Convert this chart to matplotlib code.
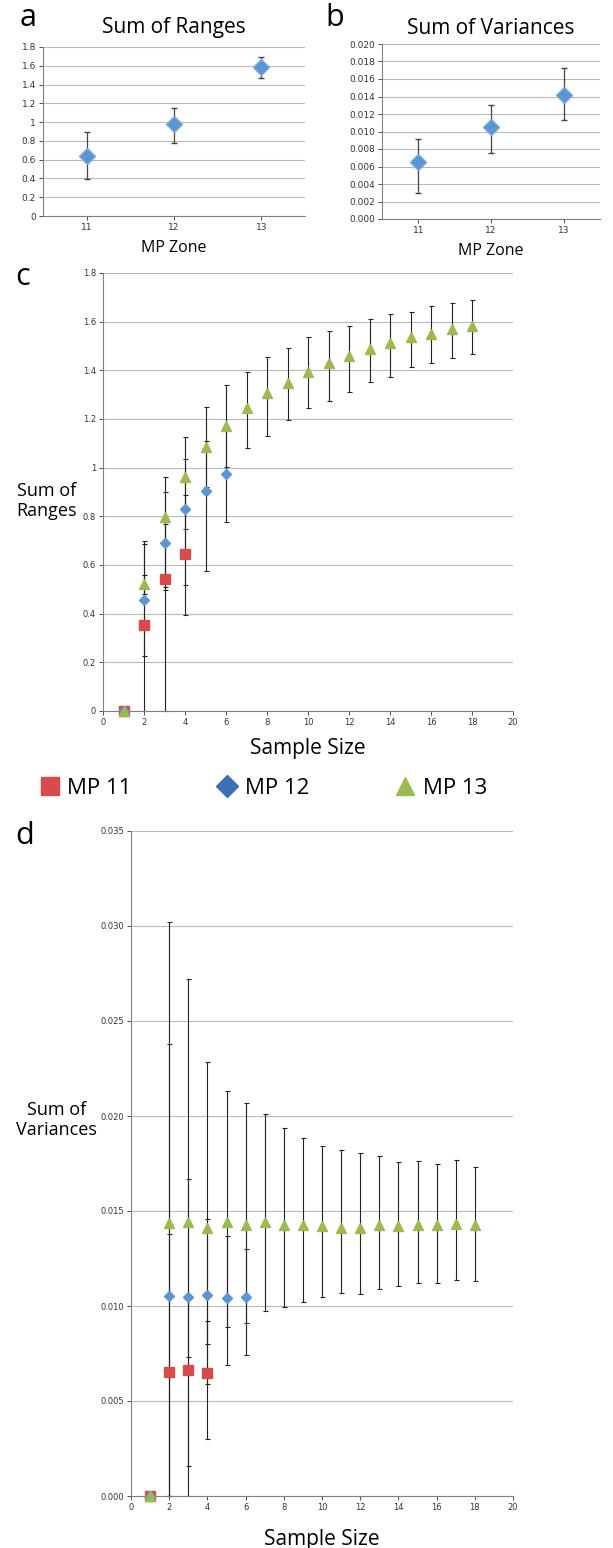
import matplotlib.pyplot as plt
from matplotlib.lines import Line2D
from matplotlib.ticker import FuncFormatter

plt.rcParams['font.family'] = ['Open Sans', 'DejaVu Sans']

# panel a, b: по зонам
zones = [11, 12, 13]
a_mean = [0.64, 0.975, 1.585]
a_lo = [0.39, 0.775, 1.465]
a_hi = [0.89, 1.155, 1.695]
b_mean = [0.0065, 0.0105, 0.0142]
b_lo = [0.0030, 0.0075, 0.0113]
b_hi = [0.0092, 0.0130, 0.0173]

# panel c: sum of ranges vs sample size
n11 = [1, 2, 3, 4]
n12 = [1, 2, 3, 4, 5, 6]
n13 = list(range(1, 19))
c11 = [0, 0.353, 0.543, 0.645]
c11_lo = [0, 0.0, 0.0, 0.395]
c11_hi = [0, 0.70, 0.767, 0.888]
c12 = [0, 0.456, 0.689, 0.829, 0.905, 0.975]
c12_lo = [0, 0.225, 0.497, 0.518, 0.577, 0.778]
c12_hi = [0, 0.685, 0.90, 1.036, 1.111, 1.155]
c13 = [0, 0.521, 0.799, 0.96, 1.086, 1.171, 1.244, 1.306, 1.349, 1.395,
       1.429, 1.459, 1.488, 1.511, 1.536, 1.551, 1.571, 1.584]
c13_lo = [0, 0.48, 0.51, 0.747, 0.921, 1.003, 1.082, 1.130, 1.195, 1.244,
          1.276, 1.309, 1.351, 1.373, 1.414, 1.429, 1.452, 1.466]
c13_hi = [0, 0.56, 0.96, 1.127, 1.251, 1.339, 1.395, 1.456, 1.493, 1.539,
          1.563, 1.584, 1.613, 1.632, 1.641, 1.665, 1.676, 1.689]

# panel d: sum of variances vs sample size
d11 = [0, 0.00653, 0.00663, 0.00647]
d11_lo = [0, 0, 0, 0.0030]
d11_hi = [0, 0.0138, 0.0104, 0.0092]
d12 = [0, 0.01054, 0.0105, 0.0106, 0.0104, 0.01049]
d12_lo = [0, 0, 0.0073, 0.0080, 0.0069, 0.0074]
d12_hi = [0, 0.0238, 0.0167, 0.0146, 0.0137, 0.0130]
d13 = [0, 0.01439, 0.01441, 0.01411, 0.0144, 0.01428, 0.0144, 0.01428, 0.01424,
       0.0142, 0.01413, 0.01413, 0.01424, 0.0142, 0.01428, 0.01424, 0.01432, 0.01424]
d13_lo = [0, 0, 0.0016, 0.0059, 0.0089, 0.0091, 0.00975, 0.00993, 0.01021,
          0.01049, 0.0107, 0.01065, 0.01088, 0.01105, 0.0112, 0.01123, 0.01135, 0.01133]
d13_hi = [0, 0.0302, 0.0272, 0.02286, 0.02132, 0.02067, 0.02011, 0.01935, 0.01882,
          0.01844, 0.01819, 0.01803, 0.01789, 0.0176, 0.01763, 0.01745, 0.01767, 0.01733]

RED = '#d94b4b'
BLUE = '#5b95d6'
BLUE_DARK = '#3d6fb5'
GREEN = '#9bbb4f'
GRID = '#b8b8b8'

W, H = 613, 1548
fig = plt.figure(figsize=(W / 100, H / 100), dpi=100)


def box(l, r, t, b):
    # пиксели -> доли фигуры
    return [l / W, 1 - b / H, (r - l) / W, (b - t) / H]


def style(ax, tick_size=6.5):
    ax.grid(axis='y', color=GRID, lw=0.8)
    ax.set_axisbelow(True)
    for s in ['top', 'right']:
        ax.spines[s].set_visible(False)
    for s in ['left', 'bottom']:
        ax.spines[s].set_color('#808080')
        ax.spines[s].set_linewidth(0.8)
    ax.tick_params(labelsize=tick_size, colors='#333333', length=3, width=0.6,
                   direction='out', pad=2)
    for lab in ax.get_xticklabels() + ax.get_yticklabels():
        lab.set_family('DejaVu Sans')


def errs(mean, lo, hi):
    return [[m - l for m, l in zip(mean, lo)], [h - m for m, h in zip(mean, hi)]]


def gfmt(v, pos):
    return ('%g' % round(v, 2))


# --- a ---
ax = fig.add_axes(box(43, 305, 47, 216))
ax.errorbar(zones, a_mean, yerr=errs(a_mean, a_lo, a_hi), fmt='D', color=BLUE,
            ms=8, mec='#7aa8dc', ecolor='#444444', elinewidth=0.9, capsize=2.5, zorder=3)
ax.set_xlim(10.5, 13.5)
ax.set_ylim(0, 1.8)
ax.set_xticks(zones)
ax.set_yticks([i * 0.2 for i in range(10)])
ax.yaxis.set_major_formatter(FuncFormatter(gfmt))
style(ax)
ax.set_title('Sum of Ranges', fontsize=15, pad=10)
ax.set_xlabel('MP Zone', fontsize=11.5, labelpad=6)
fig.text(20 / W, 1 - 18 / H, 'a', fontsize=22, va='center', ha='left')

# --- b ---
ax = fig.add_axes(box(382, 600, 44, 219))
ax.errorbar(zones, b_mean, yerr=errs(b_mean, b_lo, b_hi), fmt='D', color=BLUE,
            ms=8, mec='#7aa8dc', ecolor='#444444', elinewidth=0.9, capsize=2.5, zorder=3)
ax.set_xlim(10.5, 13.5)
ax.set_ylim(0, 0.020)
ax.set_xticks(zones)
ax.set_yticks([i * 0.002 for i in range(11)])
ax.yaxis.set_major_formatter(FuncFormatter(lambda v, p: '%.3f' % v))
style(ax)
ax.set_title('Sum of Variances', fontsize=15, pad=7)
ax.set_xlabel('MP Zone', fontsize=11.5, labelpad=6)
fig.text(325 / W, 1 - 18 / H, 'b', fontsize=22, va='center', ha='left')


def series_plot(ax, x, m, lo, hi, marker, color, ms):
    ax.errorbar(x, m, yerr=errs(m, lo, hi), fmt='none', ecolor='#222222',
                elinewidth=0.8, capsize=1.8, capthick=0.8, zorder=2, clip_on=False)
    ax.plot(x, m, ls='none', marker=marker, color=color, ms=ms, mec=color,
            zorder=3, clip_on=False)


# --- c ---
ax = fig.add_axes(box(103, 513, 273, 711))
series_plot(ax, n11, c11, c11_lo, c11_hi, 's', RED, 6.5)
series_plot(ax, n12, c12, c12_lo, c12_hi, 'D', BLUE, 5.5)
series_plot(ax, n13, c13, c13_lo, c13_hi, '^', GREEN, 6.5)
ax.set_xlim(0, 20)
ax.set_ylim(0, 1.8)
ax.set_xticks(range(0, 21, 2))
ax.set_yticks([i * 0.2 for i in range(10)])
ax.yaxis.set_major_formatter(FuncFormatter(gfmt))
style(ax, 6)
ax.set_xlabel('Sample Size', fontsize=15, labelpad=8)
ax.set_ylabel('Sum of\nRanges', fontsize=13, rotation=0, ha='center', va='center',
              linespacing=1.15)
ax.yaxis.set_label_coords(-0.137, 0.48)
fig.text(15 / W, 1 - 277 / H, 'c', fontsize=22, va='center', ha='left')

# --- legend ---
handles = [Line2D([], [], ls='none', marker='s', ms=13, color=RED, mec=RED),
           Line2D([], [], ls='none', marker='D', ms=11, color=BLUE_DARK, mec=BLUE_DARK),
           Line2D([], [], ls='none', marker='^', ms=13, color=GREEN, mec=GREEN)]
fig.legend(handles, ['MP 11', 'MP 12', 'MP 13'], loc='center', ncol=3,
           bbox_to_anchor=(264 / W, 1 - 788 / H), frameon=False, fontsize=16,
           handlelength=0.8, handletextpad=0.4, columnspacing=3.9)

# --- d ---
ax = fig.add_axes(box(131, 513, 831, 1496))
series_plot(ax, n11, d11, d11_lo, d11_hi, 's', RED, 7)
series_plot(ax, n12, d12, d12_lo, d12_hi, 'D', BLUE, 5.5)
series_plot(ax, n13, d13, d13_lo, d13_hi, '^', GREEN, 7)
ax.set_xlim(0, 20)
ax.set_ylim(0, 0.035)
ax.set_xticks(range(0, 21, 2))
ax.set_yticks([i * 0.005 for i in range(8)])
ax.yaxis.set_major_formatter(FuncFormatter(lambda v, p: '%.3f' % v))
style(ax, 6)
ax.set_xlabel('Sample Size', fontsize=15, labelpad=12)
ax.set_ylabel('Sum of\nVariances', fontsize=13, rotation=0, ha='center', va='center',
              linespacing=1.15)
ax.yaxis.set_label_coords(-0.196, 0.565)
fig.text(15 / W, 1 - 836 / H, 'd', fontsize=22, va='center', ha='left')

fig.savefig('out.png', dpi=100)
